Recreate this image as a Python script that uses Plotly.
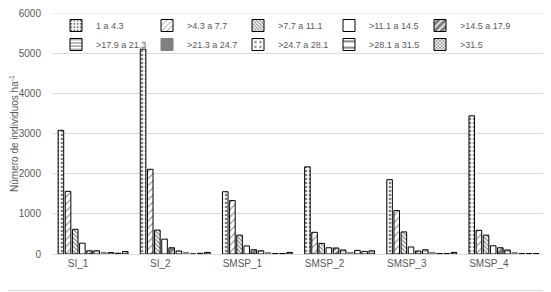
import plotly.graph_objects as go

sites = ["SI_1", "SI_2", "SMSP_1", "SMSP_2", "SMSP_3", "SMSP_4"]
classes = ["1 a 4.3", ">4.3 a 7.7", ">7.7 a 11.1", ">11.1 a 14.5", ">14.5 a 17.9",
           ">17.9 a 21.3", ">21.3 a 24.7", ">24.7 a 28.1", ">28.1 a 31.5", ">31.5"]

c_1_4 = [3080, 5100, 1550, 2170, 1850, 3440]
c_4_7 = [1560, 2110, 1330, 540, 1080, 590]
c_7_11 = [615, 595, 470, 265, 550, 470]
c_11_14 = [270, 370, 200, 155, 175, 205]
c_14_17 = [80, 155, 105, 150, 75, 155]
c_17_21 = [80, 75, 80, 100, 105, 100]
c_21_24 = [40, 40, 35, 40, 40, 35]
c_24_28 = [35, 0, 12, 90, 12, 10]
c_28_31 = [20, 18, 12, 65, 12, 10]
c_31 = [60, 40, 40, 80, 40, 10]

values = [c_1_4, c_4_7, c_7_11, c_11_14, c_14_17, c_17_21, c_21_24, c_24_28, c_28_31, c_31]

patterns = [
    dict(shape=".", size=4, solidity=0.35),
    dict(shape="/", size=5, solidity=0.2),
    dict(shape="\\", size=3, solidity=0.4),
    dict(shape="", size=6, solidity=0.1),
    dict(shape="/", size=6, solidity=0.7),
    dict(shape="-", size=4, solidity=0.3),
    dict(shape="", size=4, solidity=0.3),
    dict(shape=".", size=6, solidity=0.2),
    dict(shape="-", size=8, solidity=0.3),
    dict(shape="x", size=3, solidity=0.5),
]

fig = go.Figure()
for i, (name, vals) in enumerate(zip(classes, values)):
    grey = (i == 6)
    fig.add_trace(go.Bar(
        x=sites, y=vals, name=name,
        marker=dict(
            color="#808080" if grey else "white",
            line=dict(color="#808080" if grey else "black", width=1),
            pattern=dict(fgcolor="black", bgcolor="white", **patterns[i]) if not grey else None,
        ),
    ))

font_c = "#595959"
W, H = 543, 284
L, R, T, B = 44, 6, 5, 38
PW, PH = W - L - R, H - T - B
fig.update_layout(
    width=W, height=H,
    margin=dict(l=L, r=R, t=T, b=B, autoexpand=False),
    paper_bgcolor="white", plot_bgcolor="white",
    barmode="group", bargap=0.13, bargroupgap=0.22,
    font=dict(family="Liberation Sans, Arial, sans-serif", size=10, color=font_c),
    showlegend=True,
    legend=dict(
        orientation="h", x=(503 - L) / PW, y=1 + 2 / PH, xanchor="right", yanchor="top",
        entrywidth=46, entrywidthmode="pixels", itemwidth=30,
        font=dict(size=9, color=font_c), bgcolor="rgba(0,0,0,0)",
        tracegroupgap=0,
    ),
    xaxis=dict(
        showgrid=False, showline=True, linecolor="#d9d9d9", linewidth=1,
        ticks="", tickfont=dict(size=10, color=font_c), ticklabelshift=-15,
        automargin=False,
    ),
    yaxis=dict(
        range=[0, 6000], dtick=1000, showgrid=True, gridcolor="#d9d9d9",
        zeroline=False, showline=False, ticks="", automargin=False,
        tickfont=dict(size=10, color=font_c), ticklabelstandoff=10,
        ticklabeloverflow="allow",
        title=dict(text="Número de individuos ha<sup>-1</sup>", font=dict(size=10, color=font_c), standoff=0),
    ),
    shapes=[
        dict(type="line", xref="paper", yref="y", x0=0, x1=1, y0=6000, y1=6000,
             line=dict(color="#d9d9d9", width=1), layer="below"),
        dict(type="line", xref="paper", yref="paper",
             x0=1 + (W - 1.5 - L - PW) / PW, x1=1 + (W - 1.5 - L - PW) / PW,
             y0=-(B - 0.5) / PH + 0.0, y1=1 + T / PH,
             line=dict(color="#d9d9d9", width=1)),
        dict(type="line", xref="paper", yref="paper",
             x0=-L / PW, x1=1 + (W - 1.5 - L - PW) / PW,
             y0=-(B - 0.5 - 1) / PH, y1=-(B - 0.5 - 1) / PH,
             line=dict(color="#d9d9d9", width=1)),
    ],
)

fig.write_html("out.html")
